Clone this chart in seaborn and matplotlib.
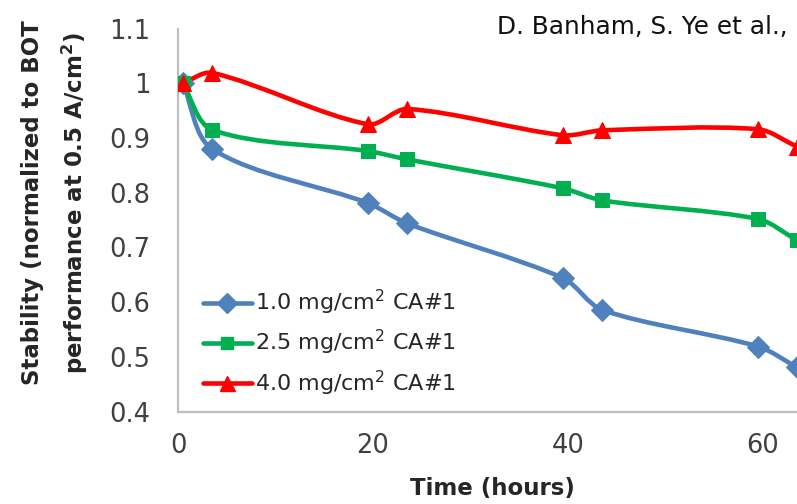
import numpy as np
import pandas as pd
import matplotlib
matplotlib.use("Agg")
import matplotlib.pyplot as plt
from matplotlib.path import Path
from matplotlib.patches import PathPatch
from matplotlib.lines import Line2D
import seaborn as sns

# Durability test: normalized performance vs. time for three catalyst loadings
time_h = [0.5, 3.5, 19.5, 23.5, 39.5, 43.5, 59.5, 63.5]
stab_10 = [1.0, 0.880, 0.781, 0.744, 0.644, 0.586, 0.519, 0.481]
stab_25 = [1.0, 0.915, 0.876, 0.861, 0.808, 0.786, 0.752, 0.713]
stab_40 = [1.0, 1.019, 0.925, 0.953, 0.905, 0.914, 0.916, 0.884]

series_names = ["1.0 mg/cm$^2$ CA#1", "2.5 mg/cm$^2$ CA#1", "4.0 mg/cm$^2$ CA#1"]
series_vals = [stab_10, stab_25, stab_40]
colors = ["#4F81BD", "#00B050", "#FF0000"]
markers = ["D", "s", "^"]
msizes = [11, 10, 12]

y_ticks = [0.4, 0.5, 0.6, 0.7, 0.8, 0.9, 1.0, 1.1]
y_ticklabels = ["0.4", "0.5", "0.6", "0.7", "0.8", "0.9", "1", "1.1"]
x_ticks = [0, 20, 40, 60]

sns.set_theme(style="white")
plt.rcParams["font.family"] = ["DejaVu Sans"]
plt.rcParams["mathtext.default"] = "regular"

df = pd.DataFrame({
    "time": np.tile(time_h, 3),
    "stability": np.concatenate(series_vals),
    "series": np.repeat(series_names, len(time_h)),
})

fig = plt.figure(figsize=(7.97, 5.04), dpi=100)
W, H = 797, 504
x0_px, px_per_h = 178, 9.75
y_bot_px, y_top_px = 411.7, 28.5
xmax = 70
ymin, ymax = 0.4, 1.1
px_per_unit = (y_bot_px - y_top_px) / (ymax - ymin)
ax = fig.add_axes([x0_px / W, (H - y_bot_px) / H,
                   xmax * px_per_h / W, (y_bot_px - y_top_px) / H])


def smooth_path(xs, ys, k=0.3):
    """Smooth cubic Bezier through the points; tangents are built in screen
    proportions so the curve bends evenly on both axes."""
    sx, sy = px_per_h, px_per_unit
    p = np.column_stack([np.asarray(xs, float) * sx, np.asarray(ys, float) * sy])
    n = len(p)
    tang = np.zeros_like(p)
    for i in range(n):
        a = p[max(i - 1, 0)]
        b = p[min(i + 1, n - 1)]
        d = b - a
        tang[i] = d / np.hypot(*d)
    verts = [p[0]]
    codes = [Path.MOVETO]
    for i in range(n - 1):
        seg = np.hypot(*(p[i + 1] - p[i]))
        c1 = p[i] + tang[i] * seg * k
        c2 = p[i + 1] - tang[i + 1] * seg * k
        verts += [c1, c2, p[i + 1]]
        codes += [Path.CURVE4] * 3
    verts = np.array(verts) / np.array([sx, sy])
    return Path(verts, codes)


for name, vals, col, mk, ms in zip(series_names, series_vals, colors, markers, msizes):
    sub = df[df["series"] == name]
    ax.add_patch(PathPatch(smooth_path(sub["time"], sub["stability"]),
                           facecolor="none", edgecolor=col, lw=3.3,
                           capstyle="round", joinstyle="round", zorder=2))
    sns.lineplot(data=sub, x="time", y="stability", ax=ax, color=col,
                 marker=mk, markersize=ms, markeredgecolor=col,
                 linewidth=0, legend=False, zorder=3)

ax.set_xlim(0, xmax)
ax.set_ylim(ymin, ymax)
ax.set_xticks(x_ticks)
ax.set_xticklabels([str(t) for t in x_ticks])
ax.set_yticks(y_ticks)
ax.set_yticklabels(y_ticklabels)
ax.set_xlabel("")
ax.set_ylabel("")

for side in ["top", "right"]:
    ax.spines[side].set_visible(False)
for side in ["left", "bottom"]:
    ax.spines[side].set_color("#BFBFBF")
    ax.spines[side].set_linewidth(1.6)

ax.tick_params(axis="both", which="major", direction="out", length=7,
               width=1.6, color="#BFBFBF", labelsize=18.5, labelcolor="#404040")
ax.tick_params(axis="y", pad=13)
ax.tick_params(axis="x", pad=8.5)
ax.grid(False)

handles = [Line2D([0], [0], color=c, lw=3.3, marker=m, markersize=s * 0.9,
                  markeredgecolor=c) for c, m, s in zip(colors, markers, msizes)]
ax.legend(handles, series_names, loc="upper left",
          bbox_to_anchor=((194 - x0_px) / (xmax * px_per_h), (y_bot_px - 279) / (y_bot_px - y_top_px)),
          frameon=False, fontsize=16, handlelength=2.2, handletextpad=0.15,
          labelspacing=0.5, borderaxespad=0, labelcolor="#262626")

fig.text(492 / W, 1 - 488 / H, "Time (hours)", ha="center", va="center",
         fontsize=16.5, fontweight="bold", color="#262626")
fig.text(33 / W, 1 - 203 / H, "Stability (normalized to BOT", rotation=90,
         ha="center", va="center", fontsize=16.5, fontweight="bold", color="#262626")
fig.text(75 / W, 1 - 203 / H, "performance at 0.5 A/cm$^2$)", rotation=90,
         ha="center", va="center", fontsize=16.5, fontweight="bold", color="#262626")
fig.text(497 / W, 1 - 27 / H, "D. Banham, S. Ye et al.,", ha="left", va="center",
         fontsize=17.8, color="#111111")

fig.savefig("out.png", dpi=100)
